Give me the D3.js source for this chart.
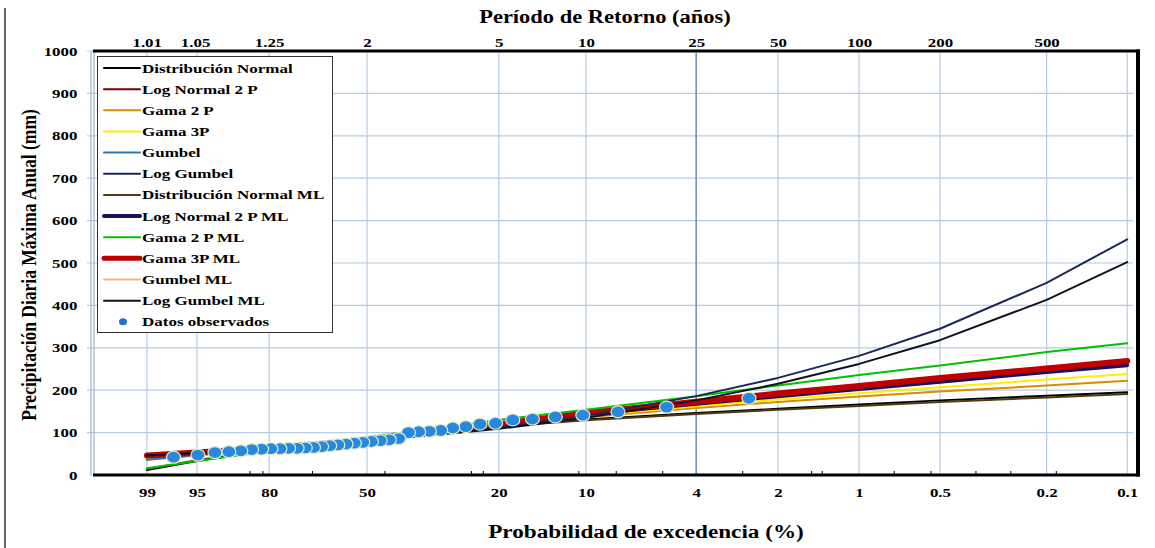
<!DOCTYPE html>
<html><head><meta charset="utf-8">
<script src="https://cdn.jsdelivr.net/npm/d3@7"></script>
<style>
html,body{margin:0;padding:0;background:#fff;}
svg{display:block;}
text{font-family:"Liberation Serif","Times New Roman",serif;font-weight:bold;fill:#000;}
</style></head><body>
<svg id="chart" width="1155" height="548"></svg>
<script>
// ---------- data ----------
const probPct    = [99, 95, 80, 50, 20, 10, 4, 2, 1, 0.5, 0.2, 0.1];
const probLabels = ["99","95","80","50","20","10","4","2","1","0.5","0.2","0.1"];
const returnPeriods = [1.01, 1.05, 1.25, 2, 5, 10, 25, 50, 100, 200, 500];
const returnLabels  = ["1.01","1.05","1.25","2","5","10","25","50","100","200","500"];
const yTicks = [0,100,200,300,400,500,600,700,800,900,1000];
const minorTickPct = [85, 81.7, 67, 44.8, 24.6, 22.5, 10.6, 7.8, 5.3, 2.7, 1.5, 1.37, 0.74, 0.54, 0.367, 0.272, 0.184];

const seriesNames = ["Distribución Normal","Log Normal 2 P","Gama 2 P","Gama 3P","Gumbel","Log Gumbel",
  "Distribución Normal ML","Log Normal 2 P ML","Gama 2 P ML","Gama 3P ML","Gumbel ML","Log Gumbel ML"];
const normal      = [12, 33, 60, 88, 116, 131, 146, 156, 166, 176, 187, 195];
const logNormal2P = [45, 52, 63, 81, 119, 145, 172, 191, 209, 228, 250, 268];
const gama2P      = [36, 46, 60, 82, 115, 136, 158, 172, 185, 197, 211, 222];
const gama3P      = [40, 49, 62, 83, 117, 139, 162, 178, 193, 207, 225, 238];
const gumbel      = [36, 48, 62, 82, 117, 142, 167, 185, 202, 219, 242, 258];
const logGumbel   = [46, 52, 63, 80, 112, 140, 186, 229, 281, 345, 453, 556];
const normalML      = [14, 35, 61, 87, 114, 129, 144, 154, 163, 172, 183, 191];
const logNormal2PML = [44, 51, 63, 82, 118, 143, 168, 186, 203, 220, 243, 259];
const gama2PML      = [16, 33, 56, 89, 130, 154, 186, 211, 236, 258, 290, 311];
const gama3PML      = [46, 53, 64, 82, 120, 146, 173, 192, 210, 229, 251, 269];
const gumbelML      = [47, 54, 65, 83, 121, 147, 174, 193, 211, 230, 252, 270];
const logGumbelML   = [46, 52, 62, 79, 109, 135, 176, 215, 262, 318, 413, 502];

const obsPct = [2.56,5.13,7.69,10.26,12.82,15.38,17.95,20.51,23.08,25.64,28.21,30.77,33.33,35.90,38.46,
  41.03,43.59,46.15,48.72,51.28,53.85,56.41,58.97,61.54,64.10,66.67,69.23,71.79,74.36,76.92,79.49,82.05,
  84.62,87.18,89.74,92.31,94.87,97.44];
const obsValues = [181,160,149,141,137,132,130,122,120,114,111,105,103,102,100,86,83,81,79,77,75,73,71,69,
  67,65,64,63,63,62,62,61,60,57,55,53,47,42];

// ---------- styles ----------
const styles = [
  {values: normal,        color:"#000000", w:2},
  {values: logNormal2P,   color:"#7b0000", w:2},
  {values: gama2P,        color:"#d98c00", w:2},
  {values: gama3P,        color:"#ffee00", w:2},
  {values: gumbel,        color:"#2e75b6", w:2},
  {values: logGumbel,     color:"#1b2856", w:2},
  {values: normalML,      color:"#4d3b12", w:2},
  {values: logNormal2PML, color:"#1c0f5a", w:4},
  {values: gama2PML,      color:"#00c000", w:2},
  {values: gama3PML,      color:"#c00000", w:6},
  {values: gumbelML,      color:"#f0b48a", w:2},
  {values: logGumbelML,   color:"#111122", w:2}
];
const drawOrder = [0,6,2,3,4,10,1,7,9,8,5,11];

const FONT_SX = 1.3;
const svg = d3.select("#chart");
const L = 92, R = 1138, T = 51, B = 475;

const gv = p => -Math.log(-Math.log(1 - p/100));   // Gumbel reduced variate from exceedance %
const x = d3.scaleLinear().domain([-2, 7]).range([L, R]);
const y = d3.scaleLinear().domain([0, 1000]).range([B, T]);

// page border artifact at far left
svg.append("line").attr("x1",5).attr("x2",5).attr("y1",8).attr("y2",548)
  .attr("stroke","#333").attr("stroke-width",1.5);

// grid
const grid = svg.append("g");
grid.selectAll("line.h").data(yTicks.slice(1)).join("line")
  .attr("x1", 87).attr("x2", 1133).attr("y1", d=>y(d)).attr("y2", d=>y(d))
  .attr("stroke","#b7cbe3").attr("stroke-width",1.2);
grid.selectAll("line.v").data(probPct).join("line")
  .attr("x1", d=>x(gv(d))).attr("x2", d=>x(gv(d))).attr("y1", T+2).attr("y2", B)
  .attr("stroke", d=> d===4 ? "#6f92bf" : "#b7cbe3").attr("stroke-width", d=> d===4 ? 1.6 : 1.2);

// left axis double pale line
svg.append("line").attr("x1",91).attr("x2",91).attr("y1",T).attr("y2",B+1).attr("stroke","#9fb8d6").attr("stroke-width",1.3);
svg.append("line").attr("x1",94).attr("x2",94).attr("y1",T).attr("y2",B+1).attr("stroke","#9fb8d6").attr("stroke-width",1.3);

// series lines
const line = d3.line().x((d,i)=>x(gv(probPct[i]))).y(d=>y(d));
const lg = svg.append("g");
drawOrder.forEach(k=>{
  const s = styles[k];
  lg.append("path").attr("d", line(s.values)).attr("fill","none")
    .attr("stroke", s.color).attr("stroke-width", s.w).attr("stroke-linecap","round").attr("stroke-linejoin","round");
});

// observed points
svg.append("g").selectAll("ellipse").data(obsValues).join("ellipse")
  .attr("cx",(d,i)=>x(gv(obsPct[i]))).attr("cy", d=>y(d))
  .attr("rx",7).attr("ry",6)
  .attr("fill","#2689df").attr("stroke","#e4ecc4").attr("stroke-width",1.2);

// frame
svg.append("line").attr("x1",93).attr("x2",R+2).attr("y1",T).attr("y2",T).attr("stroke","#000").attr("stroke-width",3);
svg.append("line").attr("x1",93).attr("x2",R+2).attr("y1",B).attr("y2",B).attr("stroke","#000").attr("stroke-width",3);
svg.append("line").attr("x1",R).attr("x2",R).attr("y1",T-1.5).attr("y2",B+1.5).attr("stroke","#000").attr("stroke-width",4);

// minor ticks on bottom axis
svg.append("g").selectAll("line").data(minorTickPct).join("line")
  .attr("x1", d=>x(gv(d))).attr("x2", d=>x(gv(d))).attr("y1", B-4).attr("y2", B)
  .attr("stroke","#000").attr("stroke-width",1);

// axes
const bottomAxis = svg.append("g").attr("transform",`translate(0,${B})`)
  .call(d3.axisBottom(x).tickValues(probPct.map(gv)).tickFormat((d,i)=>probLabels[i]).tickSize(0).tickPadding(13));
const topAxis = svg.append("g").attr("transform",`translate(0,${T})`)
  .call(d3.axisTop(x).tickValues(returnPeriods.map(t=>gv(100/t))).tickFormat((d,i)=>returnLabels[i]).tickSize(0).tickPadding(4));
const leftAxis = svg.append("g").attr("transform",`translate(93,0)`)
  .call(d3.axisLeft(y).tickValues(yTicks).tickFormat(d3.format("d")).tickSize(0).tickPadding(12));
[bottomAxis, topAxis, leftAxis].forEach(a=>{
  a.select(".domain").remove();
  a.selectAll("text").attr("font-size",13).attr("font-family",null)
    .attr("transform",`scale(${FONT_SX},1)`).style("font-weight","bold");
});

// titles
svg.append("text").attr("text-anchor","middle").attr("font-size",18)
  .attr("transform",`translate(605,23) scale(1.25,1)`).text("Período de Retorno (años)");
svg.append("text").attr("text-anchor","middle").attr("font-size",19)
  .attr("transform",`translate(646,538) scale(1.22,1)`).text("Probabilidad de excedencia (%)");
svg.append("text").attr("text-anchor","middle").attr("font-size",17.5)
  .attr("transform",`translate(36,265) rotate(-90) scale(1,1.25)`).text("Precipitación Diaria Máxima Anual (mm)");

// legend
const leg = svg.append("g");
leg.append("rect").attr("x",97.5).attr("y",56.5).attr("width",235).attr("height",276)
  .attr("fill","#fff").attr("stroke","#333").attr("stroke-width",1);
const rowY = i => 68 + i*21.15;
seriesNames.forEach((n,i)=>{
  const s = styles[i];
  leg.append("line").attr("x1",104).attr("x2",140).attr("y1",rowY(i)).attr("y2",rowY(i))
    .attr("stroke", s.color).attr("stroke-width", Math.min(s.w,5)).attr("stroke-linecap","round");
  leg.append("text").attr("font-size",13.5)
    .attr("transform",`translate(142,${rowY(i)+4.5}) scale(1.26,1)`).text(n);
});
leg.append("ellipse").attr("cx",123).attr("cy",rowY(12)).attr("rx",4).attr("ry",3.5).attr("fill","#2070c8");
leg.append("text").attr("font-size",13.5)
  .attr("transform",`translate(142,${rowY(12)+4.5}) scale(1.26,1)`).text("Datos observados");
</script>
</body></html>
